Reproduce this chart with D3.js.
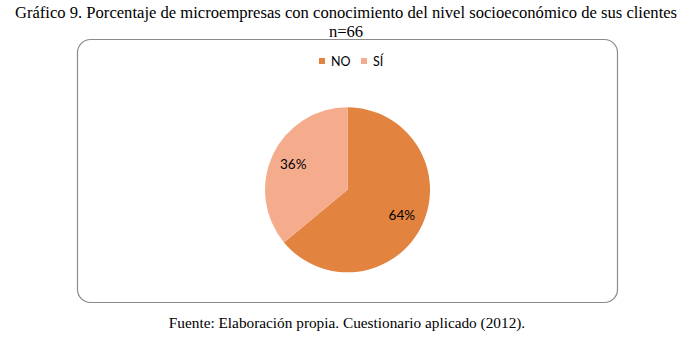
<!DOCTYPE html>
<html><head><meta charset="utf-8">
<script src="https://cdn.jsdelivr.net/npm/d3@7"></script>
<style>body{margin:0;background:#fff}svg{display:block}</style>
</head><body>
<svg id="c" width="694" height="341"></svg>
<script>
const categories = ["NO", "SÍ"];
const values = [64, 36];
const labels = ["64%", "36%"];
const colors = ["#E2833F", "#F5AC8D"];
const titleLines = ["Gráfico 9. Porcentaje de microempresas con conocimiento del nivel socioeconómico de sus clientes", "n=66"];
const source = "Fuente: Elaboración propia. Cuestionario aplicado (2012).";

const svg = d3.select("#c");
const serif = "'Liberation Serif','Times New Roman',serif";
const sans = "Lato, 'Open Sans', sans-serif";

svg.selectAll("text.title").data(titleLines).join("text")
  .attr("class","title")
  .attr("x", 346).attr("y", (d,i)=> 18 + i*19)
  .attr("text-anchor","middle")
  .attr("font-family", serif).attr("font-size", 16.6).attr("fill","#000")
  .text(d=>d);

svg.append("rect").attr("x",77.5).attr("y",39.5).attr("width",540).attr("height",263)
  .attr("rx",13).attr("ry",13).attr("fill","#fff").attr("stroke","#8a8a8a").attr("stroke-width",1.2);

// legend
const color = d3.scaleOrdinal().domain(categories).range(colors);
const legX = [319, 361];
const leg = svg.selectAll("g.leg").data(categories).join("g").attr("class","leg")
  .attr("transform",(d,i)=>`translate(${legX[i]},58)`);
leg.append("rect").attr("width",6).attr("height",6).attr("fill",d=>color(d));
leg.append("text").attr("x",12).attr("y",7.5).attr("font-family",sans).attr("font-size",12.5).attr("fill","#000").text(d=>d);

// pie
const cx = 347.5, cy = 189.8, r = 82.5;
const pie = d3.pie().sort(null).value(d=>d)(values);
const arc = d3.arc().innerRadius(0).outerRadius(r);
const lab = d3.arc().innerRadius(60).outerRadius(60);
const g = svg.append("g").attr("transform",`translate(${cx},${cy})`);
g.selectAll("path").data(pie).join("path").attr("d",arc).attr("fill",(d,i)=>color(categories[i]));
g.selectAll("text").data(pie).join("text")
  .attr("transform",d=>`translate(${lab.centroid(d)})`)
  .attr("text-anchor","middle").attr("dy","0.35em")
  .attr("font-family",sans).attr("font-size",13.5).attr("fill","#000")
  .text((d,i)=>labels[i]);

svg.append("text").attr("x",347).attr("y",328).attr("text-anchor","middle")
  .attr("font-family",serif).attr("font-size",15.3).attr("fill","#000").text(source);
</script>
</body></html>
